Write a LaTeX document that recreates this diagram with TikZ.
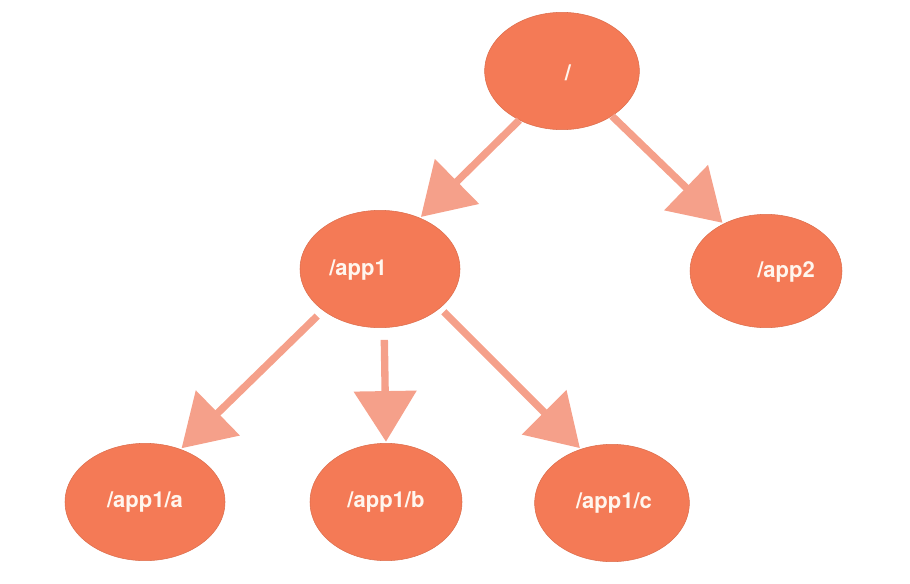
\documentclass[tikz,border=0pt]{standalone}
\usepackage{fontspec}
\setmainfont{TeX Gyre Heros}
\usetikzlibrary{shapes.geometric,arrows.meta}
\definecolor{nodefill}{RGB}{244,122,86}
\definecolor{arrowc}{RGB}{245,160,138}
\definecolor{labelc}{RGB}{255,246,238}
\tikzset{
  tnode/.style={ellipse, fill=nodefill, draw=nodefill!90!black, line width=0.4pt, inner sep=0pt},
  tlabel/.style={text=labelc, font=\fontsize{16.5}{18}\selectfont\bfseries},
  arr/.style={draw=arrowc, line width=5.5pt, -{Triangle[length=38pt,width=46pt,fill=arrowc]}, shorten >=1pt},
}
\begin{document}
\begin{tikzpicture}[x=0.75pt,y=-0.75pt]
\useasboundingbox (0,0) rectangle (910,583);
\node[tnode, minimum width=116pt, minimum height=88pt] (root) at (562,71) {};
\node[tnode, minimum width=120pt, minimum height=88pt] (app1) at (380,269) {};
\node[tnode, minimum width=114pt, minimum height=85pt] (app2) at (766,271) {};
\node[tnode, minimum width=120pt, minimum height=88pt] (a) at (145,502) {};
\node[tnode, minimum width=114pt, minimum height=88pt] (b) at (386,502) {};
\node[tnode, minimum width=116pt, minimum height=88pt] (c) at (612,503) {};

\node[tlabel] (lroot) at (568,73) {/};
\node[tlabel] (lapp1) at (358,270) {/app1};
\node[tlabel] (lapp2) at (786,272) {/app2};
\node[tlabel] (la) at (145,502) {/app1/a};
\node[tlabel] (lb) at (386,502) {/app1/b};
\node[tlabel] (lc) at (614,503) {/app1/c};

\draw[arr] (root.229) -- (app1.52);
\draw[arr] (root.318) -- (app2.132);
\draw[arr, shorten <=6pt] (app1.216) -- (a.56);
\draw[arr, shorten <=9pt] (app1.274) -- (b.90);
\draw[arr, shorten <=4pt] (app1.327) -- (c.120);
\end{tikzpicture}
\end{document}
